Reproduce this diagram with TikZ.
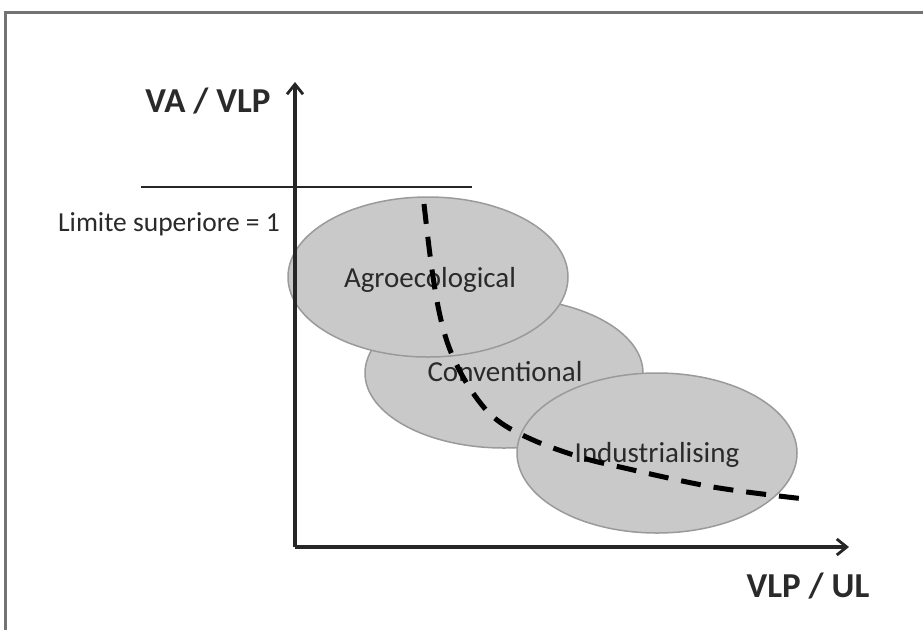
\documentclass[tikz,border=0pt]{standalone}
\usepackage{fontspec}
\setmainfont{Carlito}
\usetikzlibrary{arrows.meta,shapes.geometric}
\definecolor{ellfill}{HTML}{C9C9C9}
\definecolor{ellline}{HTML}{9A9A9A}
\definecolor{txt}{HTML}{2A2A2A}
\tikzset{
  axisline/.style={line width=3.2pt, black!85, -{Straight Barb[length=10pt,width=16pt,line width=2.8pt]}},
  blob/.style={ellipse, draw=ellline, fill=ellfill, line width=1.5pt, inner sep=0pt},
  blobtext/.style={text=txt, font=\fontsize{29}{32}\selectfont, inner sep=0pt},
  axlabel/.style={text=txt, font=\fontsize{35}{38}\selectfont\bfseries, inner sep=0pt},
}
\begin{document}
\begin{tikzpicture}[x=1pt,y=-1pt]
\useasboundingbox (0,0) rectangle (923,630);
\fill[white] (0,0) rectangle (923,630);
% frame
\draw[line width=3pt, black!55] (5,630) -- (5,12) -- (923,12);
% ellipses
\node[blob, minimum width=278pt, minimum height=150pt] (convE) at (504,373) {};
\node[blob, minimum width=280pt, minimum height=160pt] (agroE) at (428,277) {};
\node[blob, minimum width=280pt, minimum height=160pt] (indE) at (657,453) {};
% axes
\coordinate (O) at (295,547);
\coordinate (ytop) at (295,82);
\coordinate (xend) at (849,547);
\draw[axisline] (O) -- (ytop);
\draw[axisline] (O) -- (xend);
\coordinate (h1) at (141,187);
\coordinate (h2) at (472,187);
\draw[line width=2.8pt, black!85] (h1) -- (h2);
% labels
\node[axlabel] (ya) at (208,101) {VA / VLP};
\node[axlabel] (xa) at (808,586) {VLP / UL};
\node[text=txt, font=\fontsize{27.5}{30}\selectfont, inner sep=0pt] (lim) at (169,224) {Limite superiore = 1};
\node[blobtext] (agro) at (430,280) {Agroecological};
\node[blobtext] (conv) at (505,372) {Conventional};
\node[blobtext] (ind) at (657,455) {Industrialising};
% dashed curve
\draw[line width=5pt, black, dash pattern=on 20pt off 13pt]
  plot[smooth, tension=0.6] coordinates {(424,204) (432,270) (441,320) (453,357) (473,393) (497,420) (533,440) (580,457) (620,467) (713,487) (805,499)};
\end{tikzpicture}
\end{document}
